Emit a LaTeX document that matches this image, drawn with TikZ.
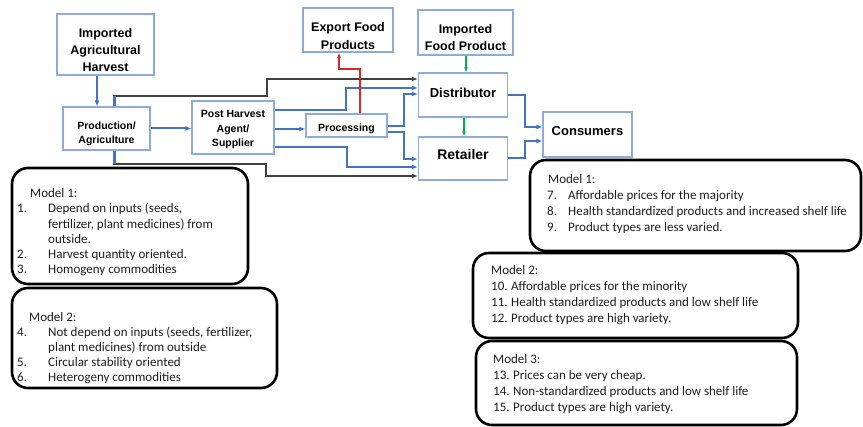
\documentclass[tikz,border=0pt]{standalone}
\usepackage{fontspec}
\setmainfont{Carlito}
\newfontfamily\hvfont{Liberation Sans}
\usetikzlibrary{arrows.meta}
\definecolor{boxc}{RGB}{143,170,220}
\definecolor{bluc}{RGB}{68,114,196}
\definecolor{gryc}{RGB}{64,64,64}
\definecolor{redc}{RGB}{222,38,38}
\definecolor{grnc}{RGB}{0,176,80}
\definecolor{txtc}{RGB}{30,30,30}
\newcommand{\bxtxt}[4]{\raisebox{#1pt}[0pt][0pt]{\fontsize{#2}{#3}\selectfont\begin{tabular}{@{}c@{}}#4\end{tabular}}}
\newcommand{\numit}[2]{\makebox[#1pt][l]{#2}}
\begin{document}
\begin{tikzpicture}[x=1pt,y=-1pt,
  fbox/.style={draw=boxc, line width=1.2pt, fill=white, inner sep=0pt, font=\hvfont\bfseries, text=black},
  blu/.style={draw=bluc, line width=2pt},
  gry/.style={draw=gryc, line width=1.8pt},
  arr/.style={-{Latex[length=6pt,width=5pt]}},
  sarr/.style={-{Latex[length=5pt,width=4pt]}},
  mbox/.style={draw=black, line width=2.6pt, rounded corners=16pt, fill=white},
  mtext/.style={anchor=north west, inner sep=0pt, align=left, text=txtc}]
\useasboundingbox (0,0) rectangle (863,427);

% flow boxes
\node[fbox, minimum width=97pt, minimum height=61pt] (iah) at (105.5,44.5) {\bxtxt{-9.5}{12.5}{17}{Imported\\Agricultural\\Harvest}};
\node[fbox, minimum width=87pt, minimum height=43pt] (prod) at (106.5,128.5) {\bxtxt{-8}{10.5}{13.5}{Production/\\Agriculture}};
\node[fbox, minimum width=82pt, minimum height=53pt] (ph) at (233,127.5) {\bxtxt{-4.5}{10.5}{14.5}{Post Harvest\\Agent/\\Supplier}};
\node[fbox, minimum width=81pt, minimum height=23pt] (proc) at (346.5,125.5) {\bxtxt{-6.5}{10.5}{13}{Processing}};
\node[fbox, minimum width=90pt, minimum height=44pt] (exp) at (348,30) {\bxtxt{-10}{12.5}{17.5}{Export Food\\Products}};
\node[fbox, minimum width=95pt, minimum height=45pt] (ifp) at (465.5,32.5) {\bxtxt{-9}{12.5}{16.5}{Imported\\Food Product}};
\node[fbox, minimum width=89pt, minimum height=44pt] (dist) at (463,95) {\bxtxt{-2.5}{13}{15}{Distributor}};
\node[fbox, minimum width=89pt, minimum height=43pt] (ret) at (463,158.5) {\bxtxt{-1.5}{14}{16}{Retailer}};
\node[fbox, minimum width=89pt, minimum height=45pt] (cons) at (587.5,134.5) {\bxtxt{-1.5}{13}{15}{Consumers}};

% connectors
\draw[blu,arr] (iah.south -| 97,0) -- (prod.north -| 97,0);
\draw[blu,arr] (prod.east) -- (ph.west |- prod.east);
\draw[gry,arr] (prod.north -| 114,0) -- (114,96) -- (267,96) -- (267,79) -- (dist.west |- 0,79);
\draw[blu,line width=3pt] (prod.north -| 114,0) -- (114,96);
\draw[gry,arr] (prod.south -| 114,0) -- (114,164) -- (266,164) -- (266,176) -- (ret.west |- 0,176);
\draw[blu,line width=3pt] (prod.south -| 114,0) -- (114,164);
\draw[blu,arr] (ph.east |- 0,110) -- (346,110) -- (346,88) -- (dist.west |- 0,88);
\draw[blu,arr] (ph.east |- 0,129) -- (proc.west |- 0,129);
\draw[blu,arr] (ph.east |- 0,147) -- (347,147) -- (347,167) -- (ret.west |- 0,167);
\draw[blu,arr] (proc.east |- 0,126) -- (404,126) -- (404,94) -- (dist.west |- 0,94);
\draw[blu,arr] (proc.east |- 0,132) -- (404,132) -- (404,159) -- (ret.west |- 0,159);
\draw[redc,line width=1.8pt,sarr] (proc.north -| 360,0) -- (360,69) -- (339,69) -- (exp.south -| 339,0);
\draw[grnc,line width=1.8pt,sarr] (ifp.south -| 466,0) -- (dist.north -| 466,0);
\draw[grnc,line width=1.8pt,sarr] (dist.south -| 464,0) -- (ret.north -| 464,0);
\draw[blu,arr] (dist.east |- 0,95) -- (525,95) -- (525,127) -- (cons.west |- 0,127);
\draw[blu,arr] (ret.east |- 0,158) -- (525,158) -- (525,141) -- (cons.west |- 0,141);

% model boxes
\draw[mbox] (12,168) rectangle (248,284);
\draw[mbox] (12,288) rectangle (277,388);
\draw[mbox] (530,160) rectangle (861,251);
\draw[mbox] (473,253) rectangle (798,338);
\draw[mbox] (476,341) rectangle (797,425);

\node[mtext, font=\fontsize{13}{15.2}\selectfont] (lm1) at (17,188.5) {\hspace*{13pt}Model 1:\\
\numit{31}{1.}Depend on inputs (seeds,\\
\hspace*{31pt}fertilizer, plant medicines) from\\
\hspace*{31pt}outside.\\
\numit{31}{2.}Harvest quantity oriented.\\
\numit{31}{3.}Homogeny commodities};

\node[mtext, font=\fontsize{13}{15}\selectfont] (lm2) at (17,312.5) {\hspace*{12pt}Model 2:\\
\numit{31}{4.}Not depend on inputs (seeds, fertilizer,\\
\hspace*{31pt}plant medicines) from outside\\
\numit{31}{5.}Circular stability oriented\\
\numit{31}{6.}Heterogeny commodities};

\node[mtext, font=\fontsize{13}{16}\selectfont] (rm1) at (547,174.5) {\hspace*{1pt}Model 1:\\
\numit{21}{7.}Affordable prices for the majority\\
\numit{21}{8.}Health standardized products and increased shelf life\\
\numit{21}{9.}Product types are less varied.};

\node[mtext, font=\fontsize{13}{16}\selectfont] (rm2) at (491,265.5) {Model 2:\\
\numit{20}{10.}Affordable prices for the minority\\
\numit{20}{11.}Health standardized products and low shelf life\\
\numit{20}{12.}Product types are high variety.};

\node[mtext, font=\fontsize{13}{16}\selectfont] (rm3) at (493,354.5) {Model 3:\\
\numit{20}{13.}Prices can be very cheap.\\
\numit{20}{14.}Non-standardized products and low shelf life\\
\numit{20}{15.}Product types are high variety.};
\end{tikzpicture}
\end{document}
